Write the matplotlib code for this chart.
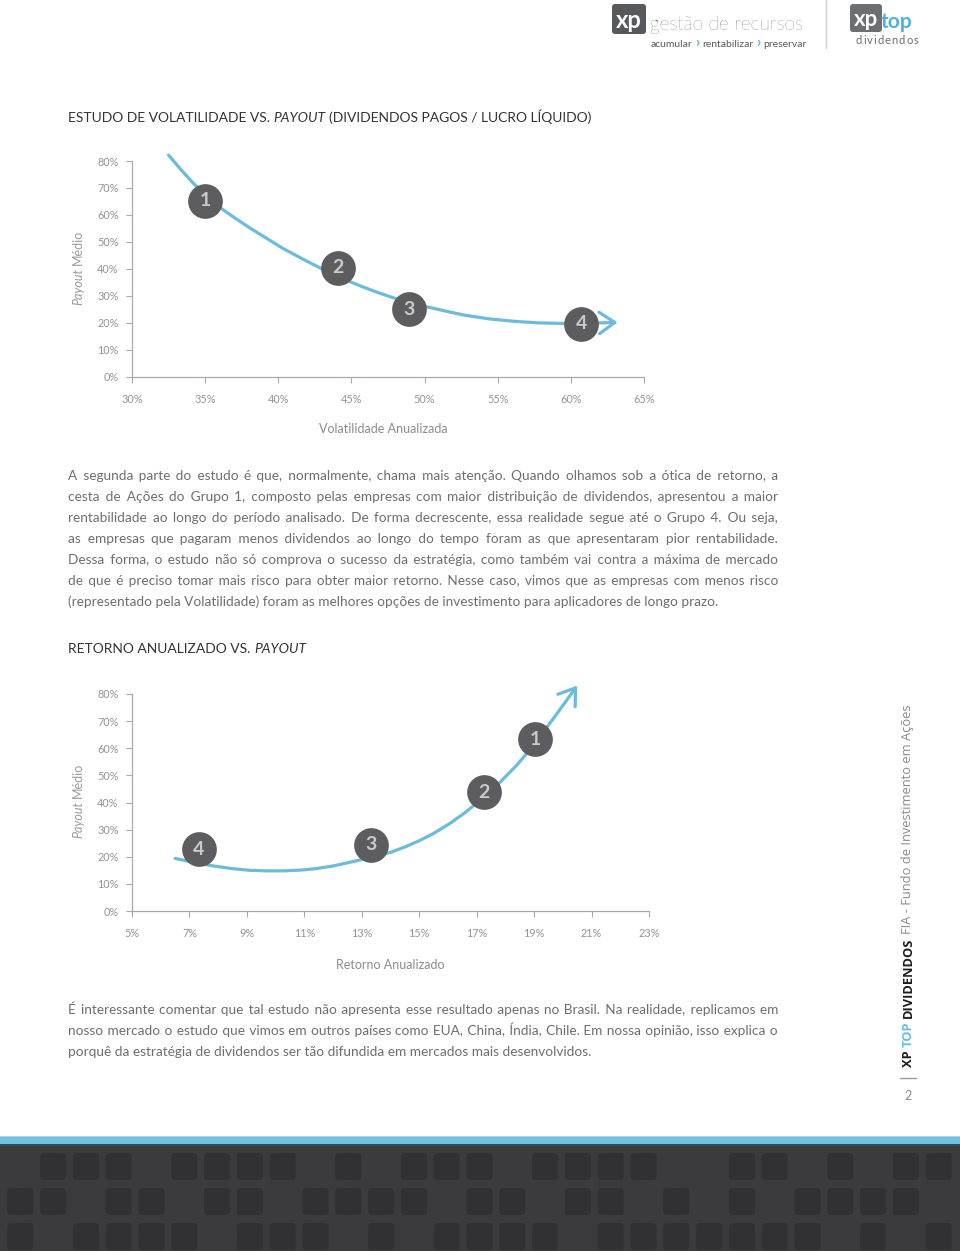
import matplotlib
matplotlib.use('Agg')
import matplotlib.pyplot as plt
from matplotlib.patches import FancyBboxPatch, Rectangle

plt.rcParams['font.family'] = ['Lato', 'DejaVu Sans']

# ---------------- data ----------------
payout_ticks = [0, 10, 20, 30, 40, 50, 60, 70, 80]

# chart 1: volatilidade anualizada vs payout medio
vol_ticks = [30, 35, 40, 45, 50, 55, 60, 65]
vol_x = [32.5, 33.3, 34.2, 35.1, 36.1, 37.1, 38.1, 39.2, 40.3, 41.6, 42.9, 43.9, 44.9,
         45.9, 46.9, 48.1, 49.2, 50.3, 51.5, 52.7, 54.4, 56.1, 57.8, 59.5, 61.4, 63.2]
vol_y = [82.2, 77.1, 71.7, 67.0, 62.4, 58.6, 55.0, 51.3, 47.6, 43.8, 40.2, 37.6, 35.2,
         33.0, 31.0, 28.8, 27.0, 25.7, 24.2, 22.8, 21.4, 20.5, 19.9, 19.7, 19.8, 20.1]
vol_groups = ['1', '2', '3', '4']
vol_grp_x = [35.0, 44.1, 48.95, 60.7]
vol_grp_y = [65.2, 40.4, 24.9, 19.5]

# chart 2: retorno anualizado vs payout medio
ret_ticks = [5, 7, 9, 11, 13, 15, 17, 19, 21, 23]
ret_x = [6.5, 7.2, 7.9, 8.5, 9.1, 9.7, 10.3, 10.9, 11.4, 12.0, 12.6, 13.3, 14.0, 14.5,
         15.0, 15.5, 16.1, 16.6, 17.2, 17.8, 18.4, 19.0, 19.5, 20.1, 20.5]
ret_y = [19.4, 17.8, 16.5, 15.6, 15.0, 14.8, 14.8, 15.1, 15.6, 16.6, 18.0, 19.7, 21.6, 23.6,
         25.9, 28.6, 32.5, 36.3, 41.5, 47.3, 53.8, 61.3, 68.5, 77.2, 83.1]
ret_groups = ['1', '2', '3', '4']
ret_grp_x = [19.03, 17.26, 13.32, 7.32]
ret_grp_y = [63.4, 43.8, 24.4, 22.7]

para1 = [
    "A segunda parte do estudo é que, normalmente, chama mais atenção. Quando olhamos sob a ótica de retorno, a",
    "cesta de Ações do Grupo 1, composto pelas empresas com maior distribuição de dividendos, apresentou a maior",
    "rentabilidade ao longo do período analisado. De forma decrescente, essa realidade segue até o Grupo 4. Ou seja,",
    "as empresas que pagaram menos dividendos ao longo do tempo foram as que apresentaram pior rentabilidade.",
    "Dessa forma, o estudo não só comprova o sucesso da estratégia, como também vai contra a máxima de mercado",
    "de que é preciso tomar mais risco para obter maior retorno. Nesse caso, vimos que as empresas com menos risco",
    "(representado pela Volatilidade) foram as melhores opções de investimento para aplicadores de longo prazo.",
]
para2 = [
    "É interessante comentar que tal estudo não apresenta esse resultado apenas no Brasil. Na realidade, replicamos em",
    "nosso mercado o estudo que vimos em outros países como EUA, China, Índia, Chile. Em nossa opinião, isso explica o",
    "porquê da estratégia de dividendos ser tão difundida em mercados mais desenvolvidos.",
]

# footer pattern (column indexes of dark squares per row)
foot_rows = [
    [1, 2, 3, 5, 6, 7, 8, 10, 12, 13, 14, 16, 17, 18, 19, 22, 23, 25, 27, 28],
    [0, 1, 3, 4, 6, 7, 9, 10, 11, 12, 14, 15, 17, 18, 20, 22, 24, 25, 26, 27],
    [0, 2, 3, 4, 5, 7, 8, 9, 11, 13, 14, 15, 16, 18, 19, 20, 21, 22, 23, 24, 26, 28],
]

BLUE = '#6dbbdb'
CIRCLE = '#5d5d5f'
TXT = '#6d6e71'
W, H = 960, 1251

fig = plt.figure(figsize=(9.6, 12.51), dpi=100)
bg = fig.add_axes([0, 0, 1, 1], zorder=0)
bg.set_xlim(0, W)
bg.set_ylim(H, 0)
bg.axis('off')
R = fig.canvas.get_renderer()


def width(s, **kw):
    t = bg.text(0, 0, s, **kw)
    w = t.get_window_extent(R).width
    t.remove()
    return w


def run(parts, x, y, rot=False, **common):
    # place text pieces one after another (left->right, or bottom->top)
    for s, kw in parts:
        kk = dict(common)
        kk.update(kw)
        if s.strip() == '':
            adv = (width('a a', **kk) - width('aa', **kk)) * len(s)
        else:
            if rot:
                bg.text(x, y, s, rotation=90, rotation_mode='anchor',
                        ha='left', va='center', **kk)
            else:
                bg.text(x, y, s, ha='left', va='baseline', **kk)
            adv = width(s, **kk)
        if rot:
            y -= adv
        else:
            x += adv


def justify(lines, y0, step, x0=68, x1=778, **kw):
    # one text per line; extra hair spaces in the gaps to reach the right margin
    pad = '\u200a'
    pad_w = width('a' + pad * 4 + 'a', **kw) - width('aa', **kw)
    pad_w /= 4
    for i, line in enumerate(lines):
        y = y0 + i * step
        if i == len(lines) - 1 or pad_w <= 0.05:
            bg.text(x0, y, line, ha='left', va='baseline', **kw)
            continue
        words = line.split()
        gaps = len(words) - 1
        extra = (x1 - x0) - width(line, **kw)
        n = max(0, int(round(extra / pad_w)))
        counts = [n // gaps + (1 if (k * 7) % gaps < n % gaps else 0) for k in range(gaps)]
        s = words[0]
        for c, w in zip(counts, words[1:]):
            s += ' ' + pad * c + w
        bg.text(x0, y, s, ha='left', va='baseline', **kw)


# ---------------- header ----------------
bg.add_patch(FancyBboxPatch((612, 4), 34, 30, boxstyle='round,pad=0,rounding_size=3',
                            fc='#58595b', ec='none'))
bg.text(629, 21, 'xp', color='white', fontsize=17, fontweight='bold', ha='center', va='center')
bg.text(650, 30, 'gestão de recursos', color='#3f4043', fontsize=13.8, fontweight='light',
        ha='left', va='baseline')
chev = {'color': '#4fb0e0', 'fontweight': 'bold', 'fontsize': 10.5}
run([('acumular', {}), (' ', {}), ('›', chev), (' ', {}),
     ('rentabilizar', {}), (' ', {}), ('›', chev), (' ', {}),
     ('preservar', {})], 651, 47, color='#58595b', fontsize=7.5)
bg.plot([826, 826], [0, 48], color='#cfcfcf', lw=1)
bg.add_patch(FancyBboxPatch((850, 4), 32, 28, boxstyle='round,pad=0,rounding_size=3',
                            fc='#6d6e71', ec='none'))
bg.text(866, 19, 'xp', color='white', fontsize=16, fontweight='bold', ha='center', va='center')
bg.text(881, 28, 'top', color='#4fb0e0', fontsize=15, fontweight='bold', ha='left', va='baseline')
xx = 856
for ch in 'dividendos':
    bg.text(xx, 44, ch, color='#6d6e71', fontsize=8, ha='left', va='baseline')
    xx += width(ch, fontsize=8) + 1.0

# ---------------- titles & paragraphs ----------------
tkw = dict(color='#333333', fontsize=10)
run([('ESTUDO DE VOLATILIDADE VS.', {}), (' ', {}), ('PAYOUT', {'style': 'italic'}), (' ', {}),
     ('(DIVIDENDOS PAGOS / LUCRO LÍQUIDO)', {})], 68, 122, **tkw)
run([('RETORNO ANUALIZADO VS.', {}), (' ', {}), ('PAYOUT', {'style': 'italic'})], 68, 653, **tkw)

justify(para1, 480, 21, color=TXT, fontsize=9.8)
justify(para2, 1014, 21, color=TXT, fontsize=9.8)

# ---------------- charts ----------------
def setup(ax, ticks, xlim):
    ax.set_xlim(*xlim)
    ax.set_ylim(0, 80)
    ax.patch.set_alpha(0)
    for s in ['top', 'right']:
        ax.spines[s].set_visible(False)
    for s in ['left', 'bottom']:
        ax.spines[s].set_color('#a7a9ac')
        ax.spines[s].set_linewidth(0.9)
    ax.set_xticks(ticks)
    ax.set_xticklabels([f'{t}%' for t in ticks])
    ax.set_yticks(payout_ticks)
    ax.set_yticklabels([f'{t}%' for t in payout_ticks])
    ax.tick_params(color='#a7a9ac', labelcolor='#949494', labelsize=7.8, length=4.5, width=0.8)
    ax.tick_params(axis='x', pad=8)
    ax.tick_params(axis='y', pad=5)


def draw(ax, xs, ys, gx, gy, groups):
    ax.plot(xs[:-1], ys[:-1], color=BLUE, lw=2.3, clip_on=False, solid_capstyle='round',
            solid_joinstyle='round', zorder=2)
    ax.annotate('', xy=(xs[-1], ys[-1]), xytext=(xs[-2], ys[-2]), annotation_clip=False,
                arrowprops=dict(arrowstyle='->,head_length=0.8,head_width=0.55', color=BLUE,
                                lw=2.3, shrinkA=0, shrinkB=0, mutation_scale=14), zorder=2)
    ax.plot(gx, gy, 'o', ms=25, color=CIRCLE, mec='none', clip_on=False, zorder=3)
    for g, x, y in zip(groups, gx, gy):
        ax.text(x, y, g, color='#cacaca', fontsize=14, fontweight='bold',
                ha='center', va='center', zorder=4)


ax1 = fig.add_axes([132 / W, (H - 376.5) / H, (644 - 132) / W, (376.5 - 161) / H], zorder=2)
setup(ax1, vol_ticks, (30, 65))
draw(ax1, vol_x, vol_y, vol_grp_x, vol_grp_y, vol_groups)
bg.text(383, 429, 'Volatilidade Anualizada', color='#8c8c8c', fontsize=9, ha='center', va='center')

ax2 = fig.add_axes([132 / W, (H - 911) / H, (649 - 132) / W, (911 - 694) / H], zorder=2)
setup(ax2, ret_ticks, (5, 23))
draw(ax2, ret_x, ret_y, ret_grp_x, ret_grp_y, ret_groups)
bg.text(390, 965, 'Retorno Anualizado', color='#8c8c8c', fontsize=9, ha='center', va='center')

ylab = [('Payout', {'style': 'italic'}), (' ', {}), ('Médio', {})]
run(ylab, 78, 305, rot=True, color='#9a9a9a', fontsize=9)
run(ylab, 78, 838, rot=True, color='#9a9a9a', fontsize=9)

# ---------------- side banner ----------------
side = [('XP', {'fontweight': 'bold', 'color': '#1e1e1e'}), (' ', {}),
        ('TOP', {'fontweight': 'bold', 'color': '#6cbde3'}), (' ', {}),
        ('DIVIDENDOS', {'fontweight': 'bold', 'color': '#1e1e1e'}), (' ', {}),
        ('FIA - Fundo de Investimento em Ações', {'color': '#8a8a8a'})]
run(side, 908, 1067, rot=True, family=['Open Sans', 'DejaVu Sans'], fontsize=9.3)
bg.plot([900, 916], [1078, 1078], color='#9a9a9a', lw=1)
bg.text(908, 1096, '2', color='#8a8a8a', fontsize=9, ha='center', va='center')

# ---------------- footer ----------------
bg.add_patch(Rectangle((0, 1136.3), W, 1.2, fc='#a9d8ec', ec='none'))
bg.add_patch(Rectangle((0, 1137.3), W, 7, fc='#73c0e1', ec='none'))
bg.add_patch(Rectangle((0, 1144.3), W, 2, fc='#2e4a55', ec='none'))
bg.add_patch(Rectangle((0, 1146.3), W, H - 1146.3, fc='#3b3b3d', ec='none'))
row_top = [1153, 1188, 1223]
for top, cols in zip(row_top, foot_rows):
    for k in cols:
        bg.add_patch(FancyBboxPatch((7.3 + k * 32.8, top), 26, 27,
                                    boxstyle='round,pad=0,rounding_size=4',
                                    fc='#313133', ec='none'))

fig.savefig('out.png', dpi=100, facecolor='white')
